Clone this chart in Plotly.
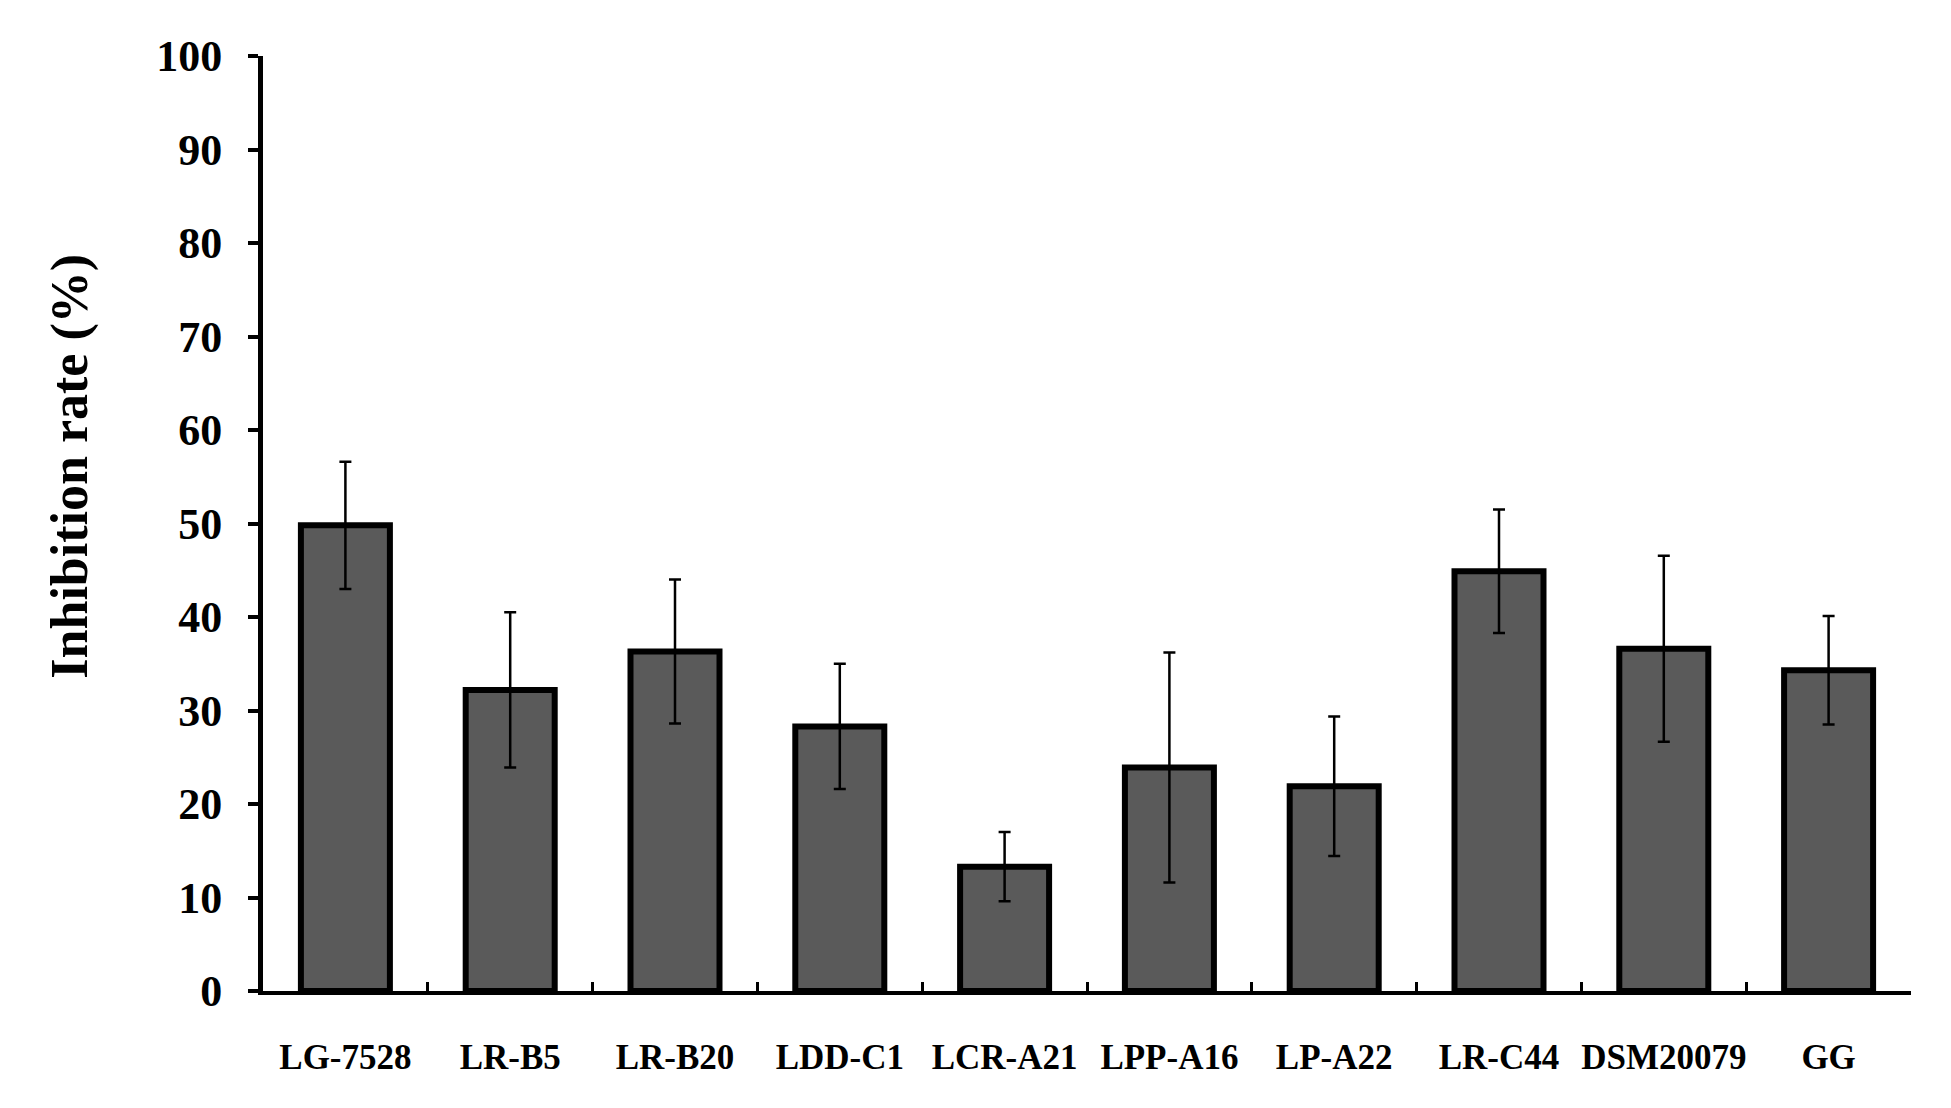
import plotly.graph_objects as go

categories = ["LG-7528", "LR-B5", "LR-B20", "LDD-C1", "LCR-A21",
              "LPP-A16", "LP-A22", "LR-C44", "DSM20079", "GG"]
values = [49.8, 32.2, 36.3, 28.3, 13.3, 23.9, 21.9, 44.9, 36.6, 34.3]
errors = [6.8, 8.3, 7.7, 6.7, 3.7, 12.3, 7.45, 6.6, 9.95, 5.8]
y_ticks = [0, 10, 20, 30, 40, 50, 60, 70, 80, 90, 100]

font_family = "Liberation Serif, Times New Roman, serif"

fig = go.Figure()
fig.add_trace(go.Bar(
    x=categories,
    y=values,
    marker=dict(color="#5a5a5a", line=dict(color="black", width=6)),
    error_y=dict(type="data", array=errors, visible=True,
                 color="black", thickness=2.5, width=6),
    showlegend=False,
))

fig.update_layout(
    width=1935, height=1092,
    margin=dict(l=255, r=32, t=48, b=109),
    paper_bgcolor="white", plot_bgcolor="white",
    bargap=0.46,
    font=dict(family=font_family, color="black"),
)

fig.update_xaxes(
    showline=True, linecolor="black", linewidth=4,
    ticks="inside", ticklen=9, tickwidth=3, tickcolor="black",
    tickson="boundaries",
    tickangle=0, automargin=False,
    tickfont=dict(family=font_family, size=35, color="black", weight="bold"),
    ticklabelstandoff=32,
    showgrid=False, zeroline=False,
)

fig.update_yaxes(
    range=[0, 100],
    tickvals=y_ticks,
    showline=True, linecolor="black", linewidth=5,
    ticks="outside", ticklen=10, tickwidth=4, tickcolor="black",
    automargin=False,
    tickfont=dict(family=font_family, size=44, color="black", weight="bold"),
    ticklabelstandoff=17,
    showgrid=False, zeroline=False,
)

fig.add_annotation(
    text="Inhibition rate (%)",
    xref="paper", yref="paper",
    x=-0.1170, y=0.5610,
    xanchor="center", yanchor="middle",
    textangle=-90, showarrow=False,
    font=dict(family=font_family, size=52, color="black", weight="bold"),
)

fig.write_html("out.html")
